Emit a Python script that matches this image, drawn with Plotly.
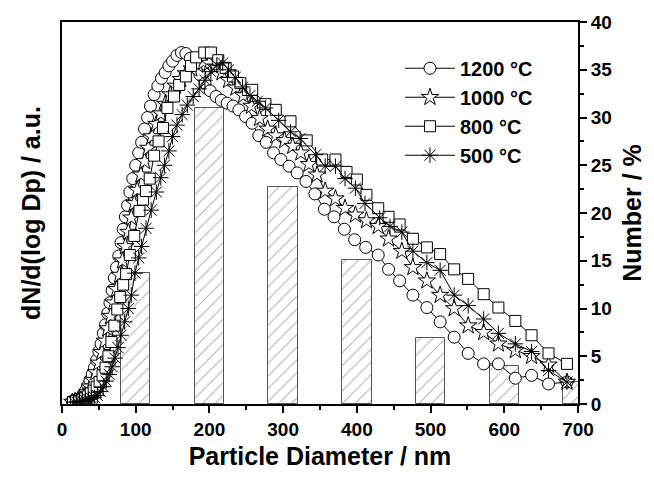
import plotly.graph_objects as go

# Particle size distributions (dN/dlogDp, arbitrary units) for each annealing temperature
d1200 = [14, 17, 20, 23, 26, 29, 32, 35, 38, 41, 44, 47, 50, 53, 56, 59, 62, 65, 68, 71, 74, 77, 80, 83,
         86, 89, 92, 96, 100, 104, 108, 112, 116, 120, 125, 130, 135, 140, 145, 150, 156, 162, 168, 174,
         180, 187, 194, 201, 209, 216, 224, 232, 240, 249, 258, 267, 277, 287, 297, 308, 319, 331, 343,
         356, 369, 383, 397, 412, 429, 443, 458, 476, 495, 513, 532, 551, 572, 592, 615, 637, 660, 685]
v1200 = [0.3, 0.4, 0.4, 0.5, 0.7, 1.0, 1.4, 1.9, 2.5, 3.1, 3.8, 4.6, 5.5, 6.3, 7.4, 8.3, 9.5, 10.6, 11.9,
         13.2, 14.3, 15.5, 16.9, 18.3, 19.6, 20.8, 22.2, 23.6, 25.0, 26.3, 27.4, 28.8, 30.0, 31.2, 32.4,
         33.3, 34.1, 34.7, 35.4, 35.9, 36.5, 36.8, 36.7, 36.2, 35.4, 34.5, 33.6, 32.8, 32.2, 31.8, 31.5,
         31.2, 30.8, 30.1, 29.4, 28.1, 27.4, 26.3, 25.6, 24.9, 24.2, 23.3, 22.0, 20.4, 19.6, 18.3, 17.2,
         16.4, 15.6, 14.1, 12.9, 11.4, 10.1, 8.6, 7.0, 5.3, 4.2, 4.2, 2.7, 3.0, 2.1, 2.3]

d1000 = [14, 18, 22, 26, 30, 34, 38, 42, 46, 50, 54, 58, 62, 66, 70, 74, 78, 82, 86, 90, 94, 98, 102,
         107, 112, 117, 122, 128, 134, 140, 147, 154, 161, 168, 176, 184, 192, 200, 208, 217, 226, 236,
         246, 257, 268, 279, 290, 302, 313, 324, 335, 346, 357, 371, 384, 398, 413, 429, 443, 461, 476,
         495, 513, 532, 551, 572, 592, 615, 637, 660, 685]
v1000 = [0.2, 0.3, 0.4, 0.5, 0.8, 1.2, 1.8, 2.5, 3.3, 4.3, 5.4, 6.6, 7.9, 9.2, 10.6, 12.0, 13.5, 15.0,
         16.5, 18.0, 19.5, 21.0, 22.4, 24.0, 25.4, 26.8, 28.0, 29.3, 30.4, 31.4, 32.4, 33.3, 34.0, 34.6,
         35.1, 35.5, 35.8, 35.7, 35.3, 34.7, 33.9, 33.1, 32.3, 31.2, 29.9, 28.8, 28.1, 27.6, 27.0, 26.3,
         25.1, 24.0, 22.3, 21.5, 20.5, 19.8, 19.2, 18.6, 17.3, 16.0, 14.3, 12.9, 11.4, 10.0, 8.2, 7.5,
         6.3, 5.6, 5.0, 4.1, 2.3]

d800 = [15, 19, 23, 27, 31, 35, 39, 43, 47, 51, 55, 59, 63, 67, 71, 75, 79, 83, 87, 92, 98, 105, 110,
        114, 119, 125, 131, 137, 143, 152, 159, 168, 175, 182, 193, 202, 212, 222, 232, 242, 258, 276,
        290, 310, 332, 353, 371, 386, 400, 413, 429, 443, 458, 476, 495, 513, 532, 551, 572, 592, 615,
        637, 660, 685]
v800 = [0.2, 0.3, 0.3, 0.4, 0.6, 0.8, 1.1, 1.4, 1.8, 2.3, 3.0, 3.8, 5.0, 6.5, 8.2, 9.9, 11.2, 12.5,
        13.6, 15.6, 17.6, 20.2, 21.4, 22.3, 23.6, 26.0, 27.5, 28.9, 31.0, 32.2, 33.4, 34.3, 35.4, 36.3,
        36.8, 36.8, 36.0, 35.2, 34.3, 33.6, 32.9, 31.4, 30.8, 29.6, 27.6, 25.6, 25.6, 24.3, 23.5, 21.9,
        20.5, 19.6, 18.8, 17.3, 16.4, 15.7, 14.1, 13.1, 11.5, 10.1, 8.7, 7.2, 5.3, 4.2]

d500 = [16, 20, 24, 28, 32, 36, 40, 44, 48, 52, 56, 60, 64, 68, 72, 76, 80, 85, 90, 94, 99, 104, 108,
        114, 121, 128, 134, 139, 145, 150, 156, 163, 170, 178, 186, 194, 202, 210, 218, 226, 235, 245,
        255, 265, 276, 294, 310, 323, 344, 357, 371, 384, 398, 411, 431, 445, 461, 476, 495, 513, 532,
        551, 572, 592, 615, 637, 660, 685]
v500 = [0.2, 0.2, 0.3, 0.3, 0.4, 0.5, 0.6, 0.7, 0.9, 1.3, 1.8, 2.4, 3.1, 3.9, 4.8, 5.9, 7.2, 8.6, 10.0,
        11.4, 13.7, 15.3, 16.5, 18.4, 20.3, 22.2, 23.7, 25.0, 26.5, 28.0, 29.2, 30.3, 31.3, 32.2, 33.0,
        33.9, 34.8, 35.5, 35.7, 35.0, 34.2, 33.2, 32.3, 31.7, 31.0, 29.7, 28.5, 27.8, 26.1, 24.9, 24.9,
        23.6, 22.6, 21.0, 19.5, 18.6, 18.0, 16.0, 14.8, 14.0, 11.4, 10.3, 8.9, 7.4, 6.3, 5.5, 3.5, 2.3]

# Number fraction histogram (%)
bar_centers = [100, 200, 300, 400, 500, 600, 700]
bar_percent = [13.7, 31.0, 22.7, 15.1, 6.9, 4.0, 2.3]

series = [
    ("1200 °C", d1200, v1200, "circle", 12),
    ("1000 °C", d1000, v1000, "star", 13),
    ("800 °C", d800, v800, "square", 11),
    ("500 °C", d500, v500, "asterisk-open", 13),
]

FONT = "Liberation Sans"

fig = go.Figure()

fig.add_trace(go.Bar(
    x=bar_centers, y=bar_percent, width=40,
    marker=dict(color="white",
                line=dict(color="#555555", width=1),
                pattern=dict(shape="/", size=9, solidity=0.12, fgcolor="#666666", bgcolor="white")),
    showlegend=False, yaxis="y",
))

for name, d, v, sym, sz in series:
    if sym.startswith("asterisk"):
        mk = dict(symbol=sym, size=sz, color="black", line=dict(color="black", width=1))
    else:
        mk = dict(symbol=sym, size=sz, color="white", line=dict(color="black", width=1))
    fig.add_trace(go.Scatter(
        x=d, y=v, name=name, mode="lines+markers",
        line=dict(color="black", width=1),
        marker=mk, yaxis="y2",
    ))

tick_font = dict(family=FONT, size=19, color="black", weight="bold")
title_font = dict(family=FONT, size=25, color="black", weight="bold")

fig.update_layout(
    width=654, height=478,
    margin=dict(l=62, r=73, t=22, b=74),
    paper_bgcolor="white", plot_bgcolor="white",
    bargap=0,
    xaxis=dict(
        range=[0, 700], dtick=100, tick0=0,
        ticks="outside", ticklen=7, tickwidth=2, tickcolor="black",
        minor=dict(dtick=50, ticks="outside", ticklen=4, tickwidth=2, tickcolor="black"),
        showline=True, linewidth=2, linecolor="black", mirror=True,
        showgrid=False, zeroline=False,
        tickfont=tick_font,
        title=dict(text="Particle Diameter / nm", font=title_font, standoff=9),
    ),
    yaxis=dict(
        side="right", range=[0, 40], dtick=5,
        ticks="outside", ticklen=7, tickwidth=2, tickcolor="black",
        minor=dict(dtick=2.5, ticks="outside", ticklen=4, tickwidth=2, tickcolor="black"),
        showline=True, linewidth=2, linecolor="black",
        showgrid=False, zeroline=False,
        tickfont=tick_font,
        title=dict(text="Number / %", font=title_font, standoff=12),
    ),
    yaxis2=dict(
        overlaying="y", side="left", range=[0, 40],
        showticklabels=False, ticks="",
        showline=True, linewidth=2, linecolor="black",
        showgrid=False, zeroline=False,
        title=dict(text="dN/d(log Dp) / a.u.", font=title_font, standoff=12),
    ),
    legend=dict(
        x=0.655, y=0.93, xanchor="left", yanchor="top",
        bgcolor="rgba(0,0,0,0)", borderwidth=0,
        font=dict(family=FONT, size=20, color="black", weight="bold"),
        itemwidth=50, tracegroupgap=0,
    ),
)

fig.write_html("out.html")
